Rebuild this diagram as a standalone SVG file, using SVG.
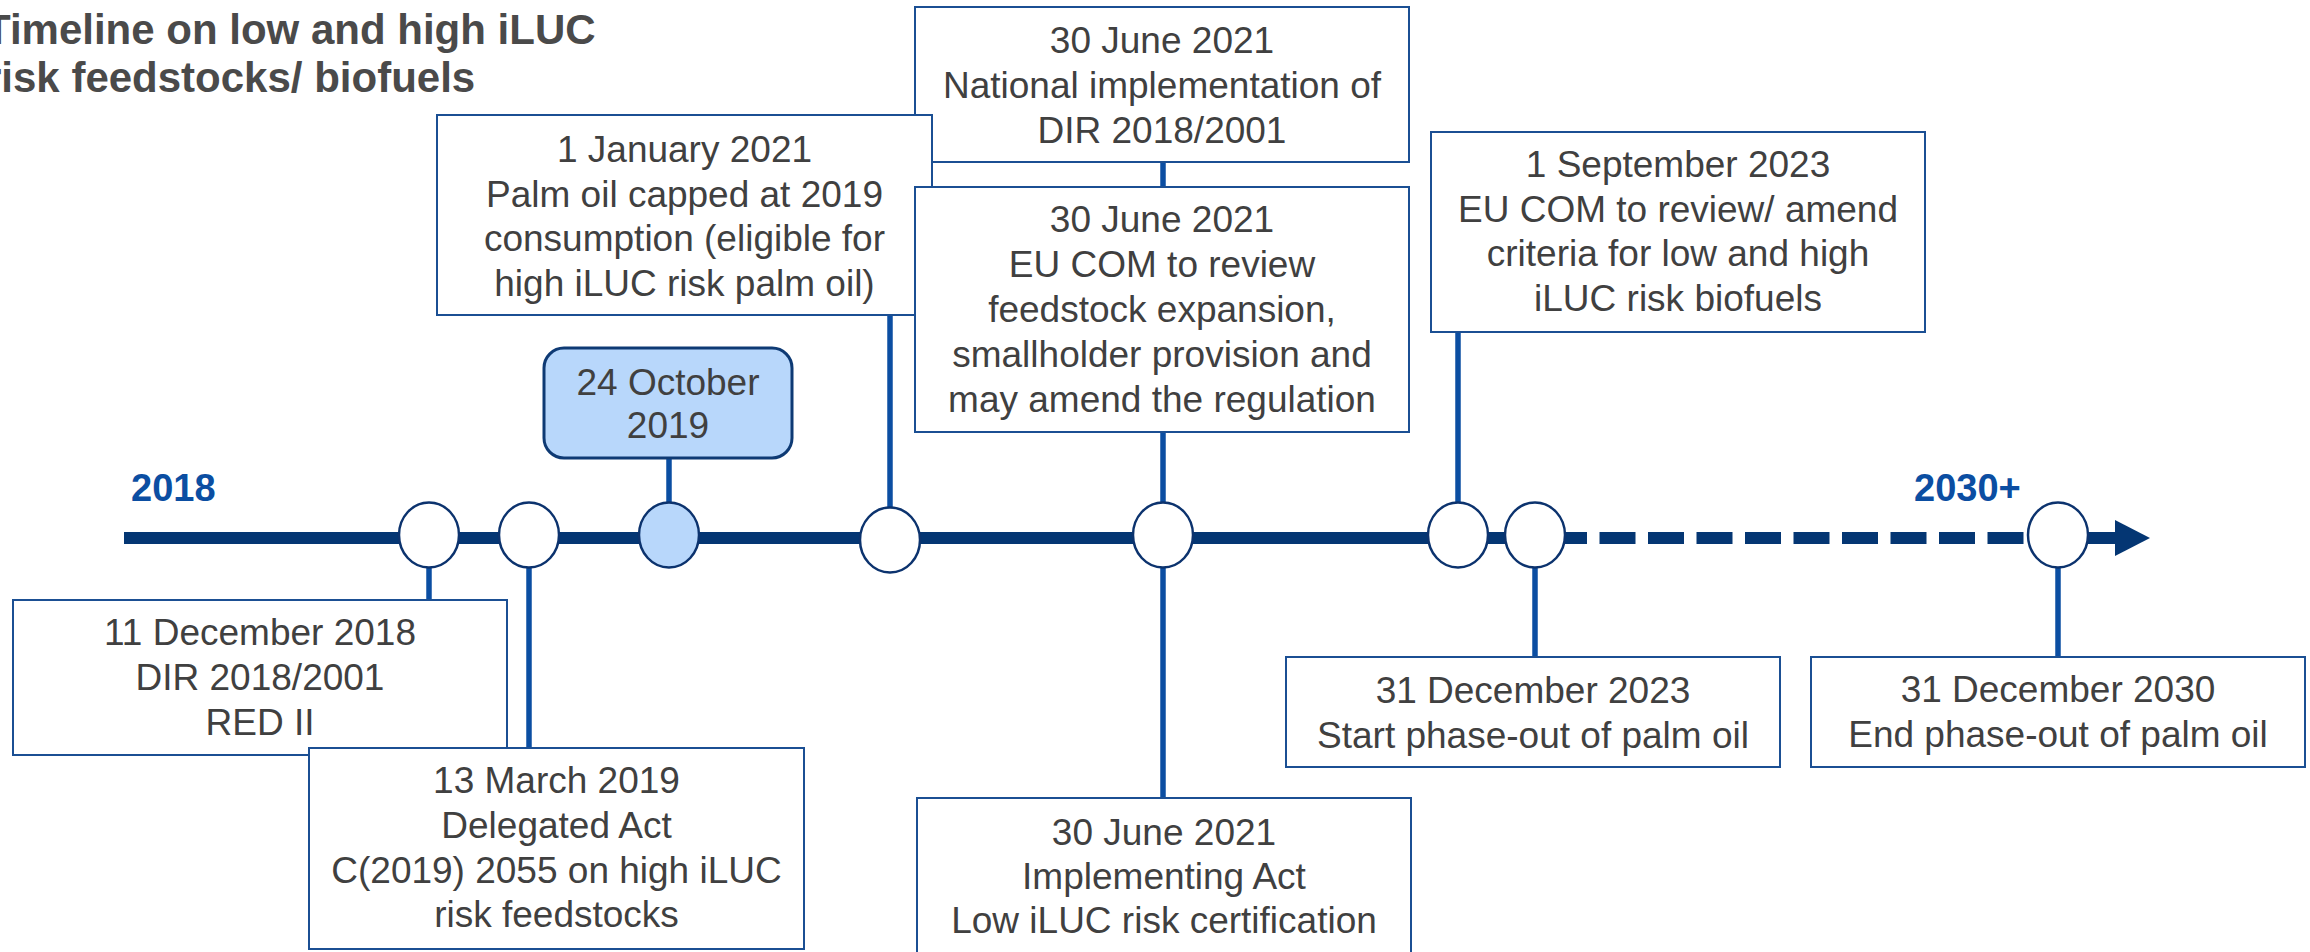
<svg xmlns="http://www.w3.org/2000/svg" width="2310" height="952" viewBox="0 0 2310 952">
<style>
.box{fill:#ffffff;stroke:#1b4f93;stroke-width:2}
.hl{fill:#b8d7fb;stroke:#0e3a74;stroke-width:3}
.t{font-family:"Liberation Sans",Arial,sans-serif;font-size:37px;fill:#404040;text-anchor:middle}
.yr{font-family:"Liberation Sans",Arial,sans-serif;font-weight:bold;font-size:38px;fill:#0b4ea2}
.title{font-family:"Liberation Sans",Arial,sans-serif;font-weight:bold;font-size:42px;fill:#4a4a4a}
.axis{stroke:#043673;stroke-width:12;fill:none}
.conn{stroke:#0b4ea2;stroke-width:5.5}
.mk{fill:#ffffff;stroke:#0c336e;stroke-width:2.5}
.mkh{fill:#b8d7fb;stroke:#0c336e;stroke-width:2.5}
</style>
<rect x="0" y="0" width="2310" height="952" fill="#ffffff"/>
<g id="title">
<text class="title" x="-15" y="44">Timeline on low and high iLUC</text>
<text class="title" x="-15" y="92">risk feedstocks/ biofuels</text>
</g>
<g id="axis">
<line class="axis" x1="124" y1="538" x2="1552" y2="538"/>
<line class="axis" x1="1551" y1="538" x2="2024" y2="538" stroke-dasharray="36 12.5"/>
<line class="axis" x1="2060" y1="538" x2="2116" y2="538"/>
<polygon points="2115,520 2150,538 2115,556" fill="#043673"/>
<text class="yr" x="131" y="501">2018</text>
<text class="yr" x="1914" y="501">2030+</text>
</g>
<g id="connectors">
<line class="conn" x1="429" y1="560" x2="429" y2="601"/>
<line class="conn" x1="529" y1="560" x2="529" y2="749"/>
<line class="conn" x1="669" y1="457" x2="669" y2="510"/>
<line class="conn" x1="890" y1="314" x2="890" y2="515"/>
<line class="conn" x1="1163" y1="161" x2="1163" y2="188"/>
<line class="conn" x1="1163" y1="431" x2="1163" y2="510"/>
<line class="conn" x1="1163" y1="560" x2="1163" y2="799"/>
<line class="conn" x1="1458" y1="331" x2="1458" y2="510"/>
<line class="conn" x1="1535" y1="560" x2="1535" y2="658"/>
<line class="conn" x1="2058" y1="560" x2="2058" y2="658"/>
</g>
<g id="markers">
<ellipse class="mk" cx="429" cy="535" rx="30" ry="32.5"/>
<ellipse class="mk" cx="529" cy="535" rx="30" ry="32.5"/>
<ellipse class="mkh" cx="669" cy="535" rx="30" ry="32.5"/>
<ellipse class="mk" cx="890" cy="540" rx="30" ry="32.5"/>
<ellipse class="mk" cx="1163" cy="535" rx="30" ry="32.5"/>
<ellipse class="mk" cx="1458" cy="535" rx="30" ry="32.5"/>
<ellipse class="mk" cx="1535" cy="535" rx="30" ry="32.5"/>
<ellipse class="mk" cx="2058" cy="535" rx="30" ry="32.5"/>
</g>
<g id="n-national">
<rect class="box" x="915" y="7" width="494" height="155"/>
<text class="t"><tspan x="1162" y="53">30 June 2021</tspan><tspan x="1162" y="98">National implementation of</tspan><tspan x="1162" y="143">DIR 2018/2001</tspan></text>
</g>
<g id="n-jan2021">
<rect class="box" x="437" y="115" width="495" height="200"/>
<text class="t"><tspan x="684.5" y="162">1 January 2021</tspan><tspan x="684.5" y="206.5">Palm oil capped at 2019</tspan><tspan x="684.5" y="251">consumption (eligible for</tspan><tspan x="684.5" y="295.5">high iLUC risk palm oil)</tspan></text>
</g>
<g id="n-eucom">
<rect class="box" x="915" y="187" width="494" height="245"/>
<text class="t"><tspan x="1162" y="232">30 June 2021</tspan><tspan x="1162" y="277">EU COM to review</tspan><tspan x="1162" y="322">feedstock expansion,</tspan><tspan x="1162" y="367">smallholder provision and</tspan><tspan x="1162" y="412">may amend the regulation</tspan></text>
</g>
<g id="n-oct2019">
<rect class="hl" x="544" y="348" width="248" height="110" rx="20" ry="20"/>
<text class="t"><tspan x="668" y="395">24 October</tspan><tspan x="668" y="438">2019</tspan></text>
</g>
<g id="n-sep2023">
<rect class="box" x="1431" y="132" width="494" height="200"/>
<text class="t"><tspan x="1678" y="177">1 September 2023</tspan><tspan x="1678" y="221.5">EU COM to review/ amend</tspan><tspan x="1678" y="266">criteria for low and high</tspan><tspan x="1678" y="310.5">iLUC risk biofuels</tspan></text>
</g>
<g id="n-dec2018">
<rect class="box" x="13" y="600" width="494" height="155"/>
<text class="t"><tspan x="260" y="645">11 December 2018</tspan><tspan x="260" y="690">DIR 2018/2001</tspan><tspan x="260" y="735">RED II</tspan></text>
</g>
<g id="n-mar2019">
<rect class="box" x="309" y="748" width="495" height="201"/>
<text class="t"><tspan x="556.5" y="793">13 March 2019</tspan><tspan x="556.5" y="838">Delegated Act</tspan><tspan x="556.5" y="883">C(2019) 2055 on high iLUC</tspan><tspan x="556.5" y="927">risk feedstocks</tspan></text>
</g>
<g id="n-implementing">
<rect class="box" x="917" y="798" width="494" height="160"/>
<text class="t"><tspan x="1164" y="845">30 June 2021</tspan><tspan x="1164" y="889">Implementing Act</tspan><tspan x="1164" y="933">Low iLUC risk certification</tspan></text>
</g>
<g id="n-dec2023">
<rect class="box" x="1286" y="657" width="494" height="110"/>
<text class="t"><tspan x="1533" y="703">31 December 2023</tspan><tspan x="1533" y="748">Start phase-out of palm oil</tspan></text>
</g>
<g id="n-dec2030">
<rect class="box" x="1811" y="657" width="494" height="110"/>
<text class="t"><tspan x="2058" y="702">31 December 2030</tspan><tspan x="2058" y="747">End phase-out of palm oil</tspan></text>
</g>
</svg>
